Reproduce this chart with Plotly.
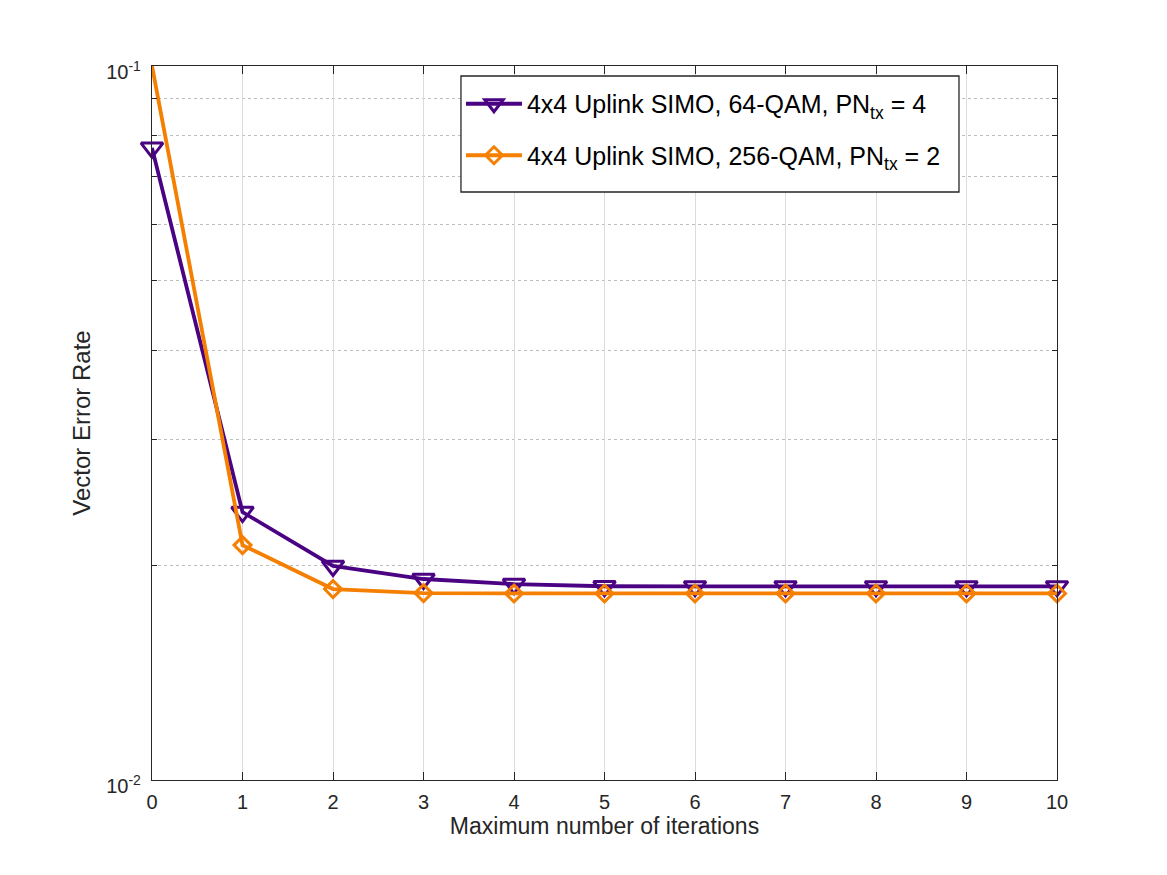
import plotly.graph_objects as go

iterations = [0, 1, 2, 3, 4, 5, 6, 7, 8, 9, 10]
ver_64qam = [0.0768, 0.02373, 0.01994, 0.01912, 0.01881, 0.01868, 0.01867, 0.01867, 0.01867, 0.01867, 0.01867]
ver_256qam = [0.1, 0.02133, 0.01851, 0.01827, 0.01825, 0.01825, 0.01825, 0.01825, 0.01825, 0.01825, 0.01825]
name_64 = "4x4 Uplink SIMO, 64-QAM, PN<sub>tx</sub> = 4"
name_256 = "4x4 Uplink SIMO, 256-QAM, PN<sub>tx</sub> = 2"
y_major = [0.01, 0.1]
y_major_text = ["10<sup>-2</sup>", "10<sup>-1</sup>"]
y_minor = [0.02, 0.03, 0.04, 0.05, 0.06, 0.07, 0.08, 0.09]

purple = "#4a0382"
orange = "#f57f00"

fig = go.Figure()
fig.add_trace(go.Scatter(
    x=iterations, y=ver_64qam, name=name_64, mode="lines+markers", legendgroup="a",
    line=dict(color=purple, width=3.8),
    marker=dict(symbol="triangle-down-open", size=19, color=purple, line=dict(width=3, color=purple)),
    cliponaxis=False,
))
fig.add_trace(go.Scatter(
    x=iterations, y=ver_256qam, name=name_256, mode="lines+markers", legendgroup="b",
    line=dict(color=orange, width=3.8),
    marker=dict(symbol="diamond-open", size=13, color=orange, line=dict(width=3, color=orange)),
    cliponaxis=False,
))

fam = "Liberation Sans, Arial, sans-serif"
tick_font = dict(family=fam, size=20, color="#262626")

# legend frame (pixel box of the reference legend, expressed in plot-area fractions)
fig.add_shape(type="rect", xref="paper", yref="paper",
              x0=0.3414, x1=0.8917, y0=0.8235, y1=0.986,
              line=dict(color="#262626", width=1.3), fillcolor="white", layer="above")

fig.update_layout(
    width=1151, height=859,
    paper_bgcolor="white", plot_bgcolor="white",
    margin=dict(l=144, r=102, t=58, b=87),
    font=dict(family=fam, size=19, color="#262626"),
    showlegend=True,
    legend=dict(
        x=0.3414, y=0.979, xanchor="left", yanchor="top",
        borderwidth=0, bgcolor="rgba(0,0,0,0)",
        font=dict(family=fam, size=25, color="black"),
        itemwidth=56, tracegroupgap=16,
    ),
    xaxis=dict(
        range=[0, 10], tickmode="array", tickvals=iterations,
        showline=True, linecolor="#262626", linewidth=1.3, mirror="ticks",
        ticks="inside", ticklen=8, tickcolor="#262626", tickwidth=1.3,
        showgrid=True, gridcolor="#dcdcdc", gridwidth=1,
        zeroline=False, ticklabelstandoff=4,
        title=dict(text="Maximum number of iterations", font=dict(family=fam, size=23, color="#262626"), standoff=2),
        tickfont=tick_font,
    ),
    yaxis=dict(
        type="log", range=[-2, -1], tickmode="array", tickvals=y_major, ticktext=y_major_text,
        showline=True, linecolor="#262626", linewidth=1.3, mirror="ticks",
        ticks="inside", ticklen=8, tickcolor="#262626", tickwidth=1.3,
        showgrid=True, gridcolor="#dcdcdc", gridwidth=1,
        zeroline=False, ticklabelstandoff=6, ticklabelshift=6,
        minor=dict(tickmode="array", tickvals=y_minor, ticks="inside", ticklen=5,
                   tickcolor="#262626", tickwidth=1.3,
                   showgrid=True, gridcolor="#bdbdbd", gridwidth=1, griddash="dot"),
        title=dict(text="Vector Error Rate", font=dict(family=fam, size=24, color="#262626"), standoff=8),
        tickfont=tick_font,
    ),
)

fig.write_html("out.html")
